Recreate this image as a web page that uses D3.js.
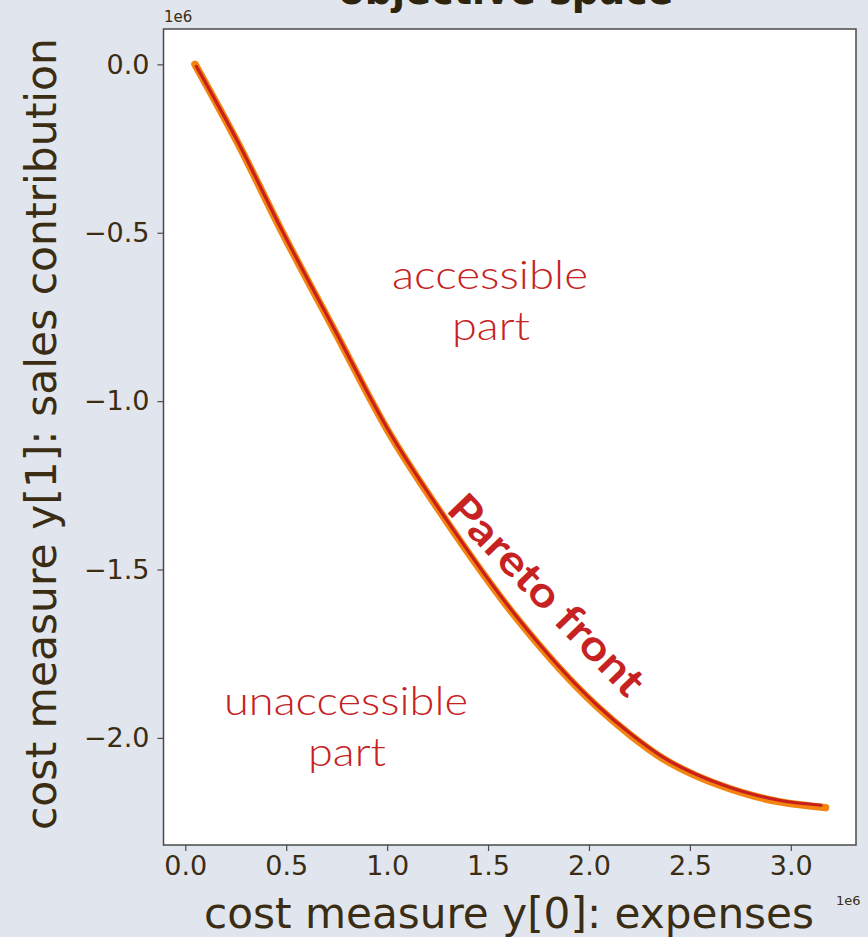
<!DOCTYPE html>
<html>
<head>
<meta charset="utf-8">
<script src="https://cdn.jsdelivr.net/npm/d3@7"></script>
<style>
  html, body { margin: 0; padding: 0; background: #e1e5ed; }
  svg { display: block; }
</style>
</head>
<body>
<svg id="chart" width="868" height="937"></svg>
<script>
// evaluated population points (values in units of 1e6)
const popX = [0.048, 0.262, 0.479, 0.740, 0.999, 1.297, 1.644, 2.040, 2.200, 2.368, 2.530, 2.699, 2.820, 2.948, 3.172];
const popY = [0.000, -0.236, -0.497, -0.792, -1.083, -1.359, -1.646, -1.907, -1.989, -2.062, -2.112, -2.151, -2.173, -2.190, -2.207];
// Pareto front traced through the population
const frontX = [0.055, 0.262, 0.479, 0.740, 0.999, 1.297, 1.644, 2.040, 2.200, 2.368, 2.530, 2.699, 2.820, 2.948, 3.150];
const frontY = [-0.006, -0.232, -0.493, -0.788, -1.079, -1.355, -1.642, -1.903, -1.985, -2.058, -2.108, -2.147, -2.169, -2.186, -2.200];

const xTicks = [0.0, 0.5, 1.0, 1.5, 2.0, 2.5, 3.0];
const yTicks = [0.0, -0.5, -1.0, -1.5, -2.0];

const titleText = "objective space";
const xLabel = "cost measure y[0]: expenses";
const yLabel = "cost measure y[1]: sales contribution";
const offsetLabel = "1e6";
const regionAbove = ["accessible", "part"];
const regionBelow = ["unaccessible", "part"];
const frontLabel = "Pareto front";

const svg = d3.select("#chart");
const W = 868, H = 937;
const plot = { left: 163.5, right: 856, top: 29, bottom: 845 };
const textColor = "#3a2d14";
const accent = "#c62222";

svg.append("rect").attr("width", W).attr("height", H).attr("fill", "#e1e5ed");

const x = d3.scaleLinear().domain([-0.108, 3.323]).range([plot.left, plot.right]);
const y = d3.scaleLinear().domain([-2.318, 0.105]).range([plot.bottom, plot.top]);

// plot area
svg.append("rect")
  .attr("x", plot.left).attr("y", plot.top)
  .attr("width", plot.right - plot.left).attr("height", plot.bottom - plot.top)
  .attr("fill", "#ffffff");

svg.append("clipPath").attr("id", "plotclip").append("rect")
  .attr("x", plot.left).attr("y", plot.top)
  .attr("width", plot.right - plot.left).attr("height", plot.bottom - plot.top);

const popPts = popX.map((v, i) => [v, popY[i]]);
const frontPts = frontX.map((v, i) => [v, frontY[i]]);
const line = d3.line().x(d => x(d[0])).y(d => y(d[1])).curve(d3.curveMonotoneX);

const curves = svg.append("g").attr("clip-path", "url(#plotclip)");
curves.append("path").datum(popPts)
  .attr("d", line).attr("fill", "none")
  .attr("stroke", "#f2840f").attr("stroke-width", 7.5)
  .attr("stroke-linecap", "round").attr("stroke-linejoin", "round");
curves.append("path").datum(frontPts)
  .attr("d", line).attr("fill", "none")
  .attr("stroke", "#c8201c").attr("stroke-width", 3.2)
  .attr("stroke-linecap", "round").attr("stroke-linejoin", "round");

// frame
svg.append("rect")
  .attr("x", plot.left).attr("y", plot.top)
  .attr("width", plot.right - plot.left).attr("height", plot.bottom - plot.top)
  .attr("fill", "none").attr("stroke", "#4a4a4a").attr("stroke-width", 1.5);

const fmt = d3.format(".1f");

// x axis
const xAxis = svg.append("g")
  .attr("transform", `translate(0,${plot.bottom})`)
  .call(d3.axisBottom(x).tickValues(xTicks).tickFormat(fmt).tickSize(6).tickPadding(5));
xAxis.select(".domain").remove();
xAxis.selectAll(".tick line").attr("stroke", "#4a4a4a").attr("stroke-width", 1.2);
xAxis.selectAll(".tick text")
  .attr("fill", textColor).attr("font-family", "DejaVu Sans").attr("font-size", 27)
  .attr("dy", "0.71em");

// y axis
const yAxis = svg.append("g")
  .attr("transform", `translate(${plot.left},0)`)
  .call(d3.axisLeft(y).tickValues(yTicks).tickFormat(fmt).tickSize(6).tickPadding(8));
yAxis.select(".domain").remove();
yAxis.selectAll(".tick line").attr("stroke", "#4a4a4a").attr("stroke-width", 1.2);
yAxis.selectAll(".tick text")
  .attr("fill", textColor).attr("font-family", "DejaVu Sans").attr("font-size", 27);

// offset multipliers
svg.append("text").attr("x", 164).attr("y", 22)
  .attr("font-family", "DejaVu Sans").attr("font-size", 15).attr("fill", textColor)
  .text(offsetLabel);
svg.append("text").attr("x", 836).attr("y", 905)
  .attr("font-family", "DejaVu Sans").attr("font-size", 13).attr("fill", textColor)
  .text(offsetLabel);

// title (runs off the top edge)
svg.append("text").attr("x", 506).attr("y", 4)
  .attr("text-anchor", "middle").attr("font-family", "DejaVu Sans")
  .attr("font-weight", "bold").attr("font-size", 40).attr("fill", "#2e230c")
  .attr("textLength", 335).attr("lengthAdjust", "spacingAndGlyphs")
  .text(titleText);

// axis titles
svg.append("text").attr("x", 509).attr("y", 928)
  .attr("text-anchor", "middle").attr("font-family", "DejaVu Sans")
  .attr("font-size", 42).attr("fill", textColor)
  .attr("textLength", 610).attr("lengthAdjust", "spacingAndGlyphs")
  .text(xLabel);
svg.append("text")
  .attr("transform", "translate(56,434) rotate(-90)")
  .attr("text-anchor", "middle").attr("font-family", "DejaVu Sans")
  .attr("font-size", 42).attr("fill", textColor)
  .attr("textLength", 792).attr("lengthAdjust", "spacingAndGlyphs")
  .text(yLabel);

// region annotations
const ann = svg.append("g").attr("font-family", "Lato").attr("fill", accent)
  .attr("text-anchor", "middle");
ann.append("text").attr("x", 490).attr("y", 289).attr("font-size", 39).attr("font-weight", 300)
  .attr("textLength", 196).attr("lengthAdjust", "spacingAndGlyphs").text(regionAbove[0]);
ann.append("text").attr("x", 491).attr("y", 340).attr("font-size", 39).attr("font-weight", 300)
  .attr("textLength", 78).attr("lengthAdjust", "spacingAndGlyphs").text(regionAbove[1]);
ann.append("text").attr("x", 346).attr("y", 715).attr("font-size", 39).attr("font-weight", 300)
  .attr("textLength", 244).attr("lengthAdjust", "spacingAndGlyphs").text(regionBelow[0]);
ann.append("text").attr("x", 347).attr("y", 766).attr("font-size", 39).attr("font-weight", 300)
  .attr("textLength", 78).attr("lengthAdjust", "spacingAndGlyphs").text(regionBelow[1]);

ann.append("text")
  .attr("transform", "translate(536,605) rotate(46)")
  .attr("font-size", 42).attr("font-weight", "bold")
  .attr("textLength", 262).attr("lengthAdjust", "spacingAndGlyphs")
  .text(frontLabel);
</script>
</body>
</html>
